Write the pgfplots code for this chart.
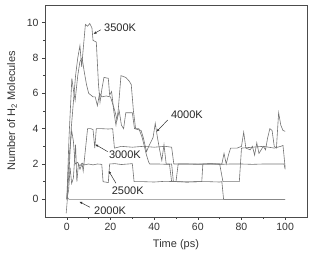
\documentclass[border=0pt]{standalone}
\usepackage{fontspec}
\setmainfont{Liberation Sans}
\usepackage{pgfplots}
\pgfplotsset{compat=1.18}
\usetikzlibrary{arrows.meta}
\begin{document}
\begin{tikzpicture}
\begin{axis}[
 scale only axis, width=262pt, height=212pt,
 xmin=-10, xmax=110, ymin=-1, ymax=11,
 xtick={0,20,...,100}, ytick={0,2,...,10},
 minor x tick num=1, minor y tick num=1,
 tick pos=left, tick align=outside,
 major tick length=3pt, minor tick length=1.8pt,
 axis line style={black!70, line width=0.8pt},
 every tick/.style={black!75, line width=0.6pt},
 font=\fontsize{10.5}{12}\selectfont,
 /pgf/number format/assume math mode=true,
 xlabel={Time (ps)}, ylabel={Number of H\textsubscript{2} Molecules},
 xlabel style={at={([yshift=-28pt]axis description cs:0.5,0)}, anchor=center, font=\fontsize{11}{13}\selectfont, text=black!80},
 ylabel style={at={([xshift=-33pt]axis description cs:0,0.5)}, anchor=center, font=\fontsize{11}{13}\selectfont, text=black!80},
 ticklabel style={text=black!80},
]
% 2000K
\addplot[black!50, line width=0.6pt] coordinates {(-0.3,-0.8)(0.3,0.1)(1,0)(5,0)(20,0)(40,0)(60,0)(80,0)(100,0)};
% 2500K
\addplot[black!55, line width=0.6pt] coordinates {(0,0)(0.8,0.5)(1.5,1.8)(2.2,0.9)(3,1.2)(4,3.1)(4.6,1.0)(5.3,2.0)(6,1.9)(7,2.05)(8,1.95)(10,2.0)(12,1.95)(14,2.0)(16,1.98)(16.6,1.0)(19,0.95)(19.6,2.0)(22,2.02)(25,1.97)(28,2.0)(30,2.02)(30.8,1.0)(35,1.0)(40,0.98)(45,1.02)(50,1.0)(55,0.98)(60,1.0)(65,1.0)(70,0.98)(71,1.0)(71.8,0)(75,0)(100,0)};
% 3000K
\addplot[black!55, line width=0.6pt] coordinates {(0,0)(1,2.3)(2.2,3.9)(3,3.3)(3.8,2.0)(5,2.1)(6,1.7)(7,2.0)(7.5,1.6)(8.5,2.8)(9.5,4.0)(11,4.0)(12,3.95)(12.8,2.9)(13.5,4.0)(16,4.0)(19,3.98)(21,4.0)(21.8,2.9)(25,3.0)(30,2.95)(35,3.0)(40,2.95)(45,3.0)(48,2.95)(49,2.0)(55,2.0)(60,1.98)(65,2.0)(70,2.0)(71.5,1.0)(75,1.0)(79,1.0)(80,2.9)(85,2.95)(90,3.0)(95,2.9)(98,3.0)(99,3.05)(100,1.8)};
% 3500K
\addplot[black!55, line width=0.6pt] coordinates {(0,0)(1,1.5)(2,4)(3,5.5)(4,7)(5,8)(6,8.7)(6.8,7.5)(7.5,8.5)(8.5,9.9)(9.5,9.8)(10.5,9.95)(11.5,9.7)(12,9.0)(13.5,8.9)(14.5,6.5)(15.2,5.5)(16,6.2)(17,6.9)(19,6.85)(19.6,5.9)(20.5,6.1)(21.5,5.0)(22.5,4.2)(23.5,5.0)(24.8,7.0)(27,6.9)(28.5,6.7)(29.5,6.5)(30.5,5.0)(31.5,4.0)(33,4.0)(34.5,3.5)(35.5,3.0)(36.5,2.5)(37.5,2.1)(38,2.0)(42,2.0)(46,1.98)(48,2.0)(48.8,1.0)(52,1.0)(55,0.98)(60,1.0)(61.8,1.0)(62.3,2.0)(66,2.02)(70,1.98)(75,2.0)(80,2.0)(85,1.98)(90,2.0)(95,2.0)(99.5,2.0)(100,1.7)};
% 4000K
\addplot[black!55, line width=0.6pt] coordinates {(0,0)(1,3.5)(2.3,6.85)(3,6.2)(3.8,5.6)(5,7.0)(6,7.8)(7,8.0)(8,7.2)(9,6.5)(10,6.0)(11,5.9)(12,5.8)(13,5.8)(14,5.3)(15,6.0)(16,5.8)(18,5.85)(20,5.8)(21,5.4)(22,5.0)(23,4.5)(24,5.0)(25,4.2)(26,4.0)(27,4.9)(30,4.9)(31,4.0)(34,3.9)(35,3.5)(36.5,2.7)(37.5,3.0)(39.5,3.5)(40.5,4.3)(41.5,3.5)(42.5,2.8)(43.5,2.2)(44.5,3.1)(45.5,2.0)(47,2.0)(48,1.0)(50,1.0)(51,2.0)(55,2.0)(60,2.0)(65,2.0)(70,2.0)(71,2.0)(72,2.6)(73,2.0)(74,2.5)(75,2.9)(78,2.9)(80,3.0)(81,3.8)(82,2.9)(84,2.8)(85,3.0)(86,2.5)(87,3.2)(88,2.6)(89,2.8)(90,3.0)(91,2.8)(92,3.5)(93,4.0)(94,3.9)(95,3.0)(96,2.9)(97,4.9)(98,4.2)(99,3.9)(100,3.85)};
% labels
\node[font=\fontsize{11}{13}\selectfont, text=black!85] at (axis cs:24.4,9.7) {3500K};
\node[font=\fontsize{11}{13}\selectfont, text=black!85] at (axis cs:55,4.77) {4000K};
\node[font=\fontsize{11}{13}\selectfont, text=black!85] at (axis cs:26.6,2.51) {3000K};
\node[font=\fontsize{11}{13}\selectfont, text=black!85] at (axis cs:27.9,0.47) {2500K};
\node[font=\fontsize{11}{13}\selectfont, text=black!85] at (axis cs:19.8,-0.64) {2000K};
\draw[black!80, line width=0.5pt, -{Latex[length=3pt,width=2.5pt]}] (axis cs:15.6,9.6) -- (axis cs:12.2,9.36);
\draw[black!80, line width=0.5pt, -{Latex[length=3pt,width=2.5pt]}] (axis cs:46.2,4.49) -- (axis cs:41.1,3.83);
\draw[black!80, line width=0.5pt, -{Latex[length=3pt,width=2.5pt]}] (axis cs:18.7,2.7) -- (axis cs:13.0,3.11);
\draw[black!80, line width=0.5pt, -{Latex[length=3pt,width=2.5pt]}] (axis cs:22.5,0.91) -- (axis cs:19.1,1.62);
\draw[black!80, line width=0.5pt, -{Latex[length=3pt,width=2.5pt]}] (axis cs:10.6,-0.45) -- (axis cs:5.7,-0.13);
\end{axis}
\pgfresetboundingbox
\path[use as bounding box] ([shift={(-45pt,-37pt)}]current axis.south west) rectangle ([shift={(4pt,5pt)}]current axis.north east);
\end{tikzpicture}
\end{document}
